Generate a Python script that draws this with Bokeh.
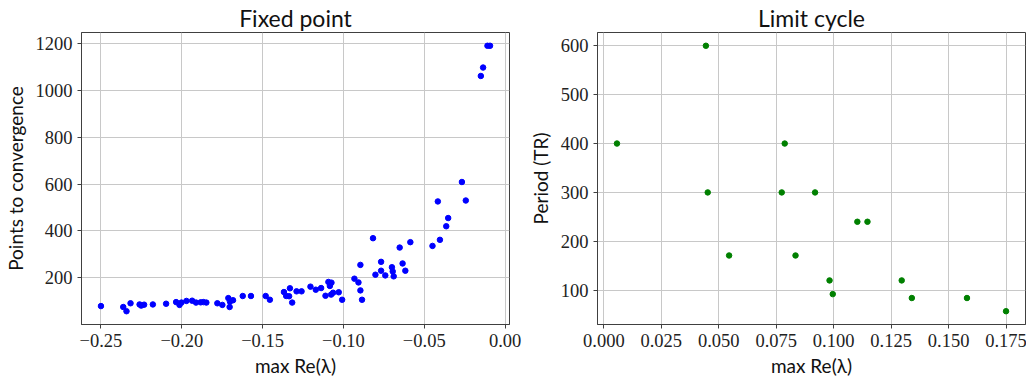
from bokeh.plotting import figure
from bokeh.layouts import row
from bokeh.models import Range1d, FixedTicker
from bokeh.embed import file_html
from bokeh.resources import INLINE

# ---- data: fixed point ----
fp_x = [-0.2500, -0.2362, -0.2342, -0.2317, -0.2261, -0.2251, -0.2233, -0.2179,
        -0.2097, -0.2035, -0.2014, -0.2002, -0.1971, -0.1936, -0.1912, -0.1883,
        -0.1866, -0.1848, -0.1780, -0.1749, -0.1712, -0.1704, -0.1702, -0.1683,
        -0.1623, -0.1572, -0.1481, -0.1455, -0.1368, -0.1354, -0.1336, -0.1331,
        -0.1317, -0.1290, -0.1259, -0.1204, -0.1171, -0.1138, -0.1111, -0.1093,
        -0.1084, -0.1074, -0.1076, -0.1064, -0.1029, -0.1008, -0.0932, -0.0907,
        -0.0895, -0.0895, -0.0885, -0.0817, -0.0802, -0.0767, -0.0767, -0.0741,
        -0.0700, -0.0695, -0.0689, -0.0652, -0.0634, -0.0617, -0.0586, -0.0449,
        -0.0416, -0.0403, -0.0364, -0.0352, -0.0267, -0.0243, -0.0150, -0.0136,
        -0.0109, -0.0093]
fp_y = [79, 75, 57, 91, 86, 81, 85, 86,
        89, 96, 84, 94, 101, 102, 94, 95,
        96, 94, 91, 84, 113, 75, 98, 104,
        122, 122, 122, 106, 139, 122, 121, 155,
        94, 142, 142, 162, 149, 156, 123, 182,
        165, 179, 128, 136, 138, 106, 196, 180,
        255, 146, 106, 369, 213, 268, 230, 210,
        245, 227, 206, 329, 261, 230, 352, 336,
        526, 362, 420, 455, 609, 530, 1062, 1098,
        1191, 1191]

# ---- data: limit cycle ----
lc_x = [0.0057, 0.0444, 0.0452, 0.0545, 0.0774, 0.0787, 0.0834, 0.0919,
        0.0982, 0.0996, 0.1103, 0.1147, 0.1296, 0.1340, 0.1580, 0.1750]
lc_y = [400, 600, 300, 171, 300, 400, 171, 300,
        120, 92, 240, 240, 120, 84, 84, 57]

# ---- ticks ----
fp_xticks = [-0.25, -0.20, -0.15, -0.10, -0.05, 0.00]
fp_xlabels = ["\u22120.25", "\u22120.20", "\u22120.15", "\u22120.10", "\u22120.05", "0.00"]
fp_yticks = [200, 400, 600, 800, 1000, 1200]
lc_xticks = [0.000, 0.025, 0.050, 0.075, 0.100, 0.125, 0.150, 0.175]
lc_xlabels = ["0.000", "0.025", "0.050", "0.075", "0.100", "0.125", "0.150", "0.175"]
lc_yticks = [100, 200, 300, 400, 500, 600]

SERIF = "Liberation Serif"
SANS = "Lato"
AX = "#404040"
GRID = "#c8c8c8"


def margins(vals, frac=0.05):
    lo, hi = min(vals), max(vals)
    d = (hi - lo) * frac
    return lo - d, hi + d


def make(xs, ys, color, xticks, xlabels, yticks, title, ylabel,
         left, right):
    x0, x1 = margins(xs)
    y0, y1 = margins(ys)
    p = figure(height=378, output_backend="svg", toolbar_location=None,
               x_range=Range1d(x0, x1), y_range=Range1d(y0, y1),
               min_border_left=left, min_border_right=right,
               min_border_top=0, min_border_bottom=54,
               frame_width=428, frame_height=292, title=title)
    p.scatter(xs, ys, size=5.5, color=color, line_color=color)
    p.outline_line_color = AX
    p.outline_line_width = 1
    p.title.align = "center"
    p.title.text_font = SANS
    p.title.text_font_size = "23px"
    p.title.text_font_style = "normal"
    p.title.text_color = "#111111"
    p.title.standoff = 2
    for ax in (p.xaxis[0], p.yaxis[0]):
        ax.axis_line_color = AX
        ax.major_tick_line_color = AX
        ax.major_tick_out = 4
        ax.major_tick_in = 0
        ax.minor_tick_line_color = None
        ax.major_label_text_font = SERIF
        ax.major_label_text_font_size = "18.5px"
        ax.major_label_text_color = "#222222"
        ax.axis_label_text_font = SANS
        ax.axis_label_text_font_size = "19px"
        ax.axis_label_text_font_style = "normal"
        ax.axis_label_text_color = "#111111"
    p.xaxis.ticker = FixedTicker(ticks=xticks)
    p.xaxis.major_label_overrides = {t: l for t, l in zip(xticks, xlabels)}
    p.xaxis.major_label_standoff = 5
    p.yaxis.ticker = FixedTicker(ticks=yticks)
    p.yaxis.major_label_standoff = 5
    p.xaxis.axis_label = "max Re(\u03bb)"
    p.xaxis.axis_label_standoff = 4
    p.yaxis.axis_label = ylabel
    p.yaxis.axis_label_standoff = 6
    p.xgrid.ticker = FixedTicker(ticks=xticks)
    p.ygrid.ticker = FixedTicker(ticks=yticks)
    p.grid.grid_line_color = GRID
    p.grid.grid_line_width = 1
    return p


p1 = make(fp_x, fp_y, "#0000ff", fp_xticks, fp_xlabels, fp_yticks,
          "Fixed point", "Points to convergence", 81, 16)
p2 = make(lc_x, lc_y, "#008000", lc_xticks, lc_xlabels, lc_yticks,
          "Limit cycle", "Period (TR)", 70, 3)

p = row(p1, p2)
open("out.html", "w").write(file_html(p, INLINE))
